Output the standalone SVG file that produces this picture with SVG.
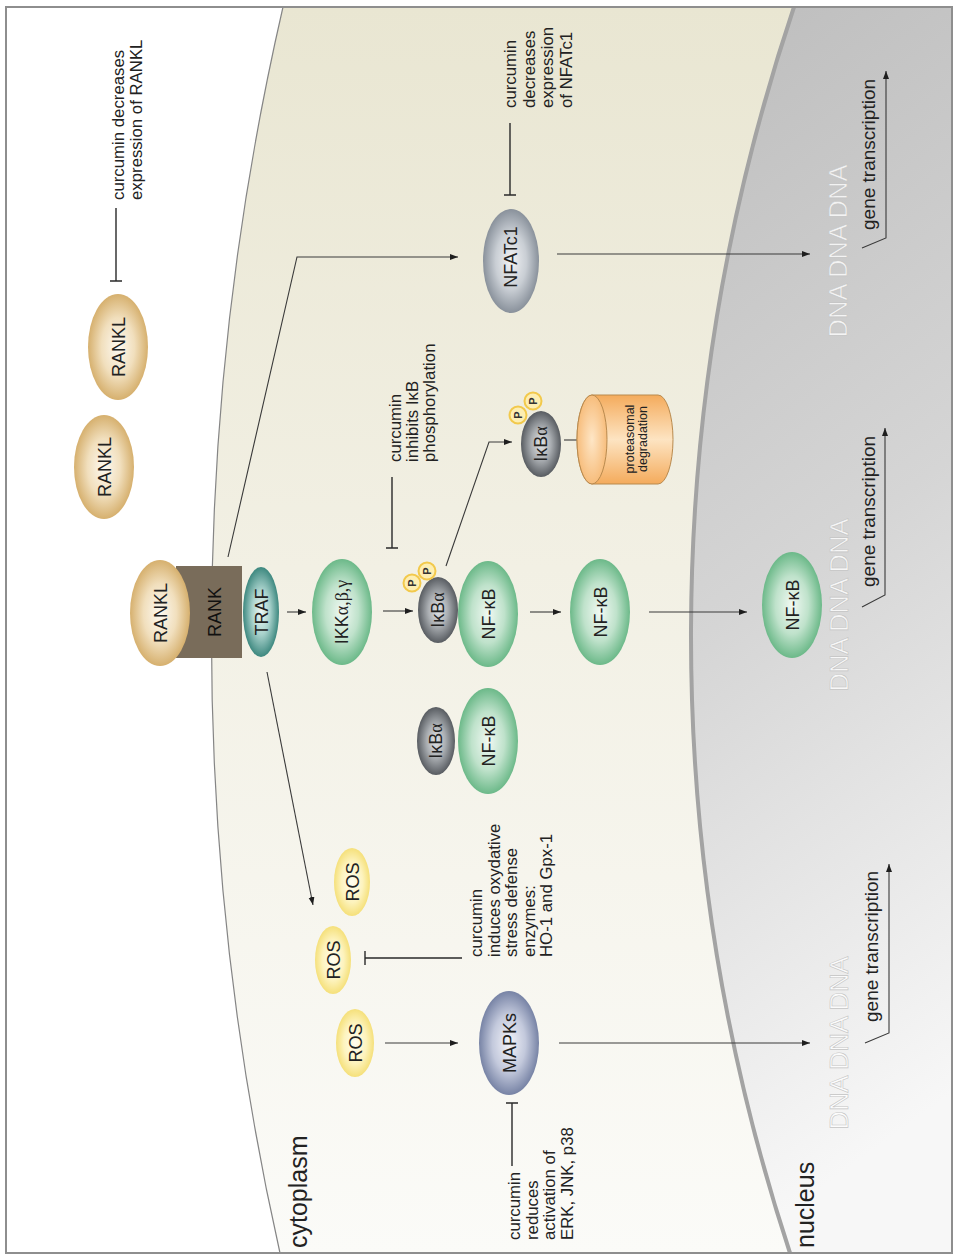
<svg xmlns="http://www.w3.org/2000/svg" width="954" height="1256" viewBox="0 0 954 1256">
  <defs>
    <style>
      text { font-family: "Liberation Sans", Arial, sans-serif; fill: #222; }
      .note { font-size: 16.8px; }
      .node { font-size: 18px; text-anchor: middle; }
      .gk { font-family: "Liberation Serif", "Times New Roman", serif; }
      .gene { font-size: 19px; }
      .dna { font-size: 25.5px; fill: #ffffff; fill-opacity: 0.78; stroke: #c4c4c4; stroke-width: 0.6; text-anchor: middle; }
      .region { font-size: 25px; }
      .pl { font-size: 11px; font-weight: bold; text-anchor: middle; fill: #333; }
      .conn { fill: none; stroke: #3a3a3a; stroke-width: 1.1; }
      .inh { fill: none; stroke: #2a2a2a; stroke-width: 1.4; }
      .pc { fill: #fdeeb2; stroke: #f2c94c; stroke-width: 2; }
    </style>
    <marker id="ah" markerUnits="userSpaceOnUse" markerWidth="9" markerHeight="7" refX="8" refY="3.5" orient="auto">
      <path d="M0,0.5 L8,3.5 L0,6.5 Z" fill="#1e1e1e"/>
    </marker>
    <linearGradient id="cytoFill" x1="0" y1="0" x2="0" y2="1">
      <stop offset="0" stop-color="#e9e6d2"/>
      <stop offset="0.45" stop-color="#f2f0e4"/>
      <stop offset="1" stop-color="#fbfbf8"/>
    </linearGradient>
    <linearGradient id="nucFill" x1="0" y1="0" x2="0.15" y2="1">
      <stop offset="0" stop-color="#bdbdbd"/>
      <stop offset="0.5" stop-color="#d5d5d5"/>
      <stop offset="1" stop-color="#f7f7f7"/>
    </linearGradient>
    <radialGradient id="gTan"><stop offset="0" stop-color="#fdf9f1"/><stop offset="0.55" stop-color="#f1dfbd"/><stop offset="1" stop-color="#d6b06e"/></radialGradient>
    <radialGradient id="gTeal"><stop offset="0" stop-color="#eef7f5"/><stop offset="0.5" stop-color="#a9d2cc"/><stop offset="1" stop-color="#3d887f"/></radialGradient>
    <radialGradient id="gGreen"><stop offset="0" stop-color="#f1f9f3"/><stop offset="0.55" stop-color="#bfe2cb"/><stop offset="1" stop-color="#6cb989"/></radialGradient>
    <radialGradient id="gGrey"><stop offset="0" stop-color="#e4e5e7"/><stop offset="0.5" stop-color="#a9adb1"/><stop offset="1" stop-color="#585c61"/></radialGradient>
    <radialGradient id="gSlate"><stop offset="0" stop-color="#f2f3f5"/><stop offset="0.55" stop-color="#c9ced4"/><stop offset="1" stop-color="#89919b"/></radialGradient>
    <radialGradient id="gBlue"><stop offset="0" stop-color="#f3f4fa"/><stop offset="0.55" stop-color="#c3c9dc"/><stop offset="1" stop-color="#7783a5"/></radialGradient>
    <radialGradient id="gYellow"><stop offset="0" stop-color="#fffdf0"/><stop offset="0.6" stop-color="#fdf3bd"/><stop offset="1" stop-color="#f5e07a"/></radialGradient>
    <linearGradient id="gCylBody" x1="0" y1="0" x2="0" y2="1">
      <stop offset="0" stop-color="#f4ab5c"/>
      <stop offset="0.5" stop-color="#fde4c2"/>
      <stop offset="1" stop-color="#f4ab5c"/>
    </linearGradient>
    <radialGradient id="gCylFace"><stop offset="0" stop-color="#fee6c6"/><stop offset="1" stop-color="#f7bd7c"/></radialGradient>
  </defs>

  <!-- background and compartments -->
  <rect x="0" y="0" width="954" height="1256" fill="#ffffff"/>
  <g id="cytoplasm">
    <path d="M283,7 A2807,2807 0 0 0 280,1253 L952,1253 L952,7 Z" fill="url(#cytoFill)" stroke="none"/>
    <path d="M283,7 A2807,2807 0 0 0 280,1253" fill="none" stroke="#858585" stroke-width="1.2"/>
    <text class="region" font-size="24.5" transform="translate(0,1248) rotate(-90)" x="0" y="307">cytoplasm</text>
  </g>
  <g id="nucleus">
    <path d="M794,7 A1972,1972 0 0 0 790,1253 L952,1253 L952,7 Z" fill="url(#nucFill)" stroke="none"/>
    <path d="M794,7 A1972,1972 0 0 0 790,1253" fill="none" stroke="#a3a3a3" stroke-width="4"/>
    <text class="region" transform="translate(0,1248) rotate(-90)" x="0" y="814">nucleus</text>
  </g>
  <rect x="6" y="7" width="946" height="1246" fill="none" stroke="#8e8e8e" stroke-width="2"/>

  <!-- connectors -->
  <g id="connectors">
    <polyline class="conn" points="228,557 297,257 458,257" marker-end="url(#ah)"/>
    <line class="conn" x1="557" y1="254" x2="810" y2="254" marker-end="url(#ah)"/>
    <line class="conn" x1="287" y1="612" x2="306" y2="612" marker-end="url(#ah)"/>
    <line class="conn" x1="383" y1="611" x2="413" y2="611" marker-end="url(#ah)"/>
    <polyline class="conn" points="446,566 489,442 512,442" marker-end="url(#ah)"/>
    <line class="conn" x1="564" y1="440" x2="589" y2="440" marker-end="url(#ah)"/>
    <line class="conn" x1="530" y1="612" x2="561" y2="612" marker-end="url(#ah)"/>
    <line class="conn" x1="649" y1="612" x2="747" y2="612" marker-end="url(#ah)"/>
    <line class="conn" x1="267" y1="672" x2="313" y2="905" marker-end="url(#ah)"/>
    <line class="conn" x1="385" y1="1043" x2="458" y2="1043" marker-end="url(#ah)"/>
    <line class="conn" x1="559" y1="1043" x2="810" y2="1043" marker-end="url(#ah)"/>
    <!-- transcription start arrows -->
    <polyline class="conn" points="862,248 886,238 886,71" marker-end="url(#ah)"/>
    <polyline class="conn" points="862,607 885,595 885,428" marker-end="url(#ah)"/>
    <polyline class="conn" points="865,1043 889,1033 889,864" marker-end="url(#ah)"/>
    <!-- inhibition bars -->
    <path class="inh" d="M116,208 V281 M110,281 H122"/>
    <path class="inh" d="M392,477 V548 M386,548 H398"/>
    <path class="inh" d="M510,123 V195 M504,195 H516"/>
    <path class="inh" d="M462,958 H365 M365,951 V965"/>
    <path class="inh" d="M512,1166 V1103 M506,1103 H518"/>
  </g>

  <!-- free ligands -->
  <g id="rankl-a">
    <ellipse cx="118" cy="347" rx="30" ry="53" fill="url(#gTan)"/>
    <text class="node" font-size="19" x="118" y="353.5" transform="rotate(-90 118 347)">RANKL</text>
  </g>
  <g id="rankl-b">
    <ellipse cx="104" cy="467" rx="30" ry="52" fill="url(#gTan)"/>
    <text class="node" font-size="19" x="104" y="473.5" transform="rotate(-90 104 467)">RANKL</text>
  </g>

  <!-- receptor complex -->
  <g id="rank">
    <rect x="176" y="566" width="66" height="92" fill="#796c5a"/>
    <text class="node" font-size="18.5" x="214" y="618.5" transform="rotate(-90 214 612)" style="fill:#111">RANK</text>
  </g>
  <g id="rankl-bound">
    <ellipse cx="160" cy="613" rx="30" ry="53" fill="url(#gTan)"/>
    <text class="node" font-size="19" x="160" y="619.5" transform="rotate(-90 160 613)">RANKL</text>
  </g>
  <g id="traf">
    <ellipse cx="261" cy="612" rx="18" ry="45" fill="url(#gTeal)"/>
    <text class="node" x="261" y="618.5" transform="rotate(-90 261 612)">TRAF</text>
  </g>
  <g id="ikk">
    <ellipse cx="342" cy="612" rx="30" ry="53" fill="url(#gGreen)"/>
    <text class="node" font-size="17.5" x="342" y="618" transform="rotate(-90 342 612)">IKK<tspan class="gk">α,β,γ</tspan></text>
  </g>

  <!-- phosphorylated IkBa bound to NF-kB -->
  <g id="nfkb-a">
    <ellipse cx="488" cy="614" rx="30" ry="53" fill="url(#gGreen)"/>
    <text class="node" x="488" y="620.5" transform="rotate(-90 488 614)">NF-κB</text>
  </g>
  <g id="ikba-p">
    <ellipse cx="438" cy="610" rx="20" ry="33" fill="url(#gGrey)"/>
    <text class="node" font-size="17" x="438" y="616" transform="rotate(-90 438 610)">IκB<tspan class="gk">α</tspan></text>
    <circle class="pc" cx="412" cy="583" r="8.5"/>
    <text class="pl" x="412" y="587" transform="rotate(-90 412 583)">P</text>
    <circle class="pc" cx="427" cy="571" r="8.5"/>
    <text class="pl" x="427" y="575" transform="rotate(-90 427 571)">P</text>
  </g>

  <!-- inactive complex -->
  <g id="nfkb-inactive">
    <ellipse cx="488" cy="741" rx="30" ry="53" fill="url(#gGreen)"/>
    <text class="node" x="488" y="747.5" transform="rotate(-90 488 741)">NF-κB</text>
  </g>
  <g id="ikba-inactive">
    <ellipse cx="436" cy="741" rx="19" ry="34" fill="url(#gGrey)"/>
    <text class="node" font-size="17" x="436" y="747" transform="rotate(-90 436 741)">IκB<tspan class="gk">α</tspan></text>
  </g>

  <!-- released IkBa and proteasome -->
  <g id="ikba-released">
    <ellipse cx="541" cy="444" rx="20" ry="33" fill="url(#gGrey)"/>
    <text class="node" font-size="17" x="541" y="450" transform="rotate(-90 541 444)">IκB<tspan class="gk">α</tspan></text>
    <circle class="pc" cx="518" cy="415" r="8.5"/>
    <text class="pl" x="518" y="419" transform="rotate(-90 518 415)">P</text>
    <circle class="pc" cx="533" cy="401" r="8.5"/>
    <text class="pl" x="533" y="405" transform="rotate(-90 533 401)">P</text>
  </g>
  <g id="proteasome">
    <path d="M592,395 L658,395 A15,44.5 0 0 1 658,484 L592,484 A15,44.5 0 0 1 592,395 Z" fill="url(#gCylBody)" stroke="#b98a4e" stroke-width="1"/>
    <ellipse cx="592" cy="439.5" rx="15" ry="44.5" fill="url(#gCylFace)" stroke="#b98a4e" stroke-width="1"/>
    <text font-size="12.5" text-anchor="middle" transform="translate(0,439) rotate(-90)"><tspan x="0" y="634">proteasomal</tspan><tspan x="0" y="646.5">degradation</tspan></text>
  </g>

  <g id="nfkb-free">
    <ellipse cx="600" cy="612" rx="30" ry="53" fill="url(#gGreen)"/>
    <text class="node" x="600" y="618.5" transform="rotate(-90 600 612)">NF-κB</text>
  </g>
  <g id="nfkb-nuclear">
    <ellipse cx="792" cy="605" rx="30" ry="53" fill="url(#gGreen)"/>
    <text class="node" x="792" y="611.5" transform="rotate(-90 792 605)">NF-κB</text>
  </g>

  <g id="nfatc1">
    <ellipse cx="511" cy="261" rx="28" ry="52" fill="url(#gSlate)"/>
    <text class="node" font-size="17" x="511" y="263" transform="rotate(-90 511 257)">NFATc1</text>
  </g>

  <!-- ROS and MAPK branch -->
  <g id="ros-a">
    <ellipse cx="352" cy="882" rx="18" ry="34" fill="url(#gYellow)"/>
    <text class="node" x="352" y="888.5" transform="rotate(-90 352 882)">ROS</text>
  </g>
  <g id="ros-b">
    <ellipse cx="333" cy="960" rx="18" ry="34" fill="url(#gYellow)"/>
    <text class="node" x="333" y="966.5" transform="rotate(-90 333 960)">ROS</text>
  </g>
  <g id="ros-c">
    <ellipse cx="355" cy="1043" rx="19" ry="34" fill="url(#gYellow)"/>
    <text class="node" x="355" y="1049.5" transform="rotate(-90 355 1043)">ROS</text>
  </g>
  <g id="mapks">
    <ellipse cx="509" cy="1043" rx="30" ry="52" fill="url(#gBlue)"/>
    <text class="node" font-size="19" x="509" y="1049.5" transform="rotate(-90 509 1043)">MAPKs</text>
  </g>

  <!-- nuclear DNA and transcription -->
  <g id="dna-top">
    <text class="dna" transform="translate(0,251) rotate(-90)" x="0" y="847">DNA DNA DNA</text>
  </g>
  <g id="dna-mid">
    <text class="dna" transform="translate(0,605) rotate(-90)" x="0" y="848">DNA DNA DNA</text>
  </g>
  <g id="dna-bottom">
    <text class="dna" transform="translate(0,1043) rotate(-90)" x="0" y="848">DNA DNA DNA</text>
  </g>
  <g id="transcription-labels">
    <text class="gene" transform="translate(0,230) rotate(-90)" x="0" y="875">gene transcription</text>
    <text class="gene" transform="translate(0,587) rotate(-90)" x="0" y="875">gene transcription</text>
    <text class="gene" transform="translate(0,1022) rotate(-90)" x="0" y="878">gene transcription</text>
  </g>

  <!-- curcumin action notes -->
  <g id="note-rankl">
    <text class="note" transform="translate(0,200) rotate(-90)"><tspan x="0" y="124">curcumin decreases</tspan><tspan x="0" y="142">expression of RANKL</tspan></text>
  </g>
  <g id="note-ikb">
    <text class="note" transform="translate(0,462) rotate(-90)"><tspan x="0" y="401">curcumin</tspan><tspan x="0" y="418">inhibits IκB</tspan><tspan x="0" y="435">phosphorylation</tspan></text>
  </g>
  <g id="note-nfatc1">
    <text class="note" transform="translate(0,108) rotate(-90)"><tspan x="0" y="516">curcumin</tspan><tspan x="0" y="534.5">decreases</tspan><tspan x="0" y="553">expression</tspan><tspan x="0" y="571.5">of NFATc1</tspan></text>
  </g>
  <g id="note-ros">
    <text class="note" transform="translate(0,957) rotate(-90)"><tspan x="0" y="482">curcumin</tspan><tspan x="0" y="499.5">induces oxydative</tspan><tspan x="0" y="517">stress defense</tspan><tspan x="0" y="534.5">enzymes:</tspan><tspan x="0" y="552">HO-1 and Gpx-1</tspan></text>
  </g>
  <g id="note-mapk">
    <text class="note" transform="translate(0,1240) rotate(-90)"><tspan x="0" y="520">curcumin</tspan><tspan x="0" y="537.5">reduces</tspan><tspan x="0" y="555">activation of</tspan><tspan x="0" y="572.5">ERK, JNK, p38</tspan></text>
  </g>
</svg>
